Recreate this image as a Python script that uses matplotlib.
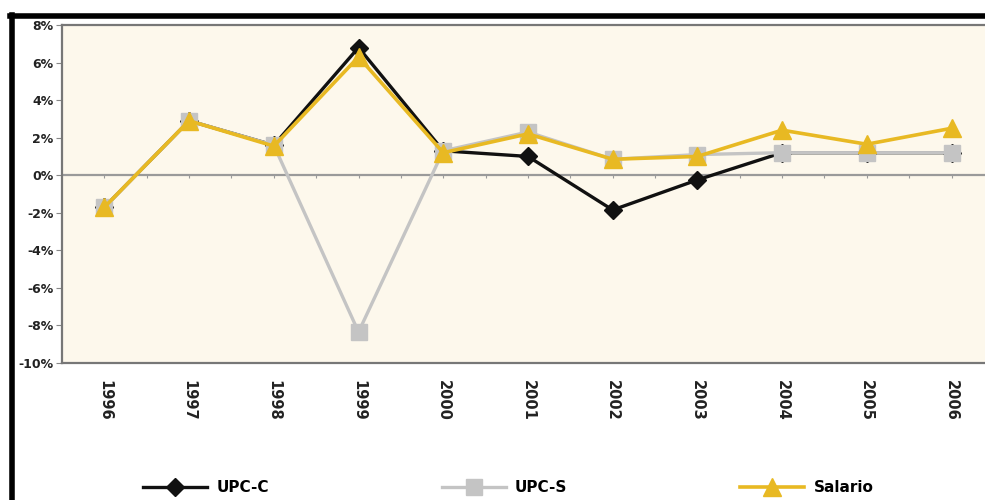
import matplotlib
matplotlib.use("Agg")
import matplotlib.pyplot as plt
from matplotlib.lines import Line2D

# data (percent)
years = ["1996", "1997", "1998", "1999", "2000", "2001", "2002", "2003", "2004", "2005", "2006"]
upc_c = [-1.7, 2.9, 1.6, 6.8, 1.3, 1.0, -1.85, -0.25, 1.2, 1.2, 1.2]
upc_s = [-1.7, 2.9, 1.6, -8.35, 1.3, 2.3, 0.85, 1.1, 1.2, 1.2, 1.2]
salario = [-1.7, 2.9, 1.55, 6.3, 1.2, 2.2, 0.85, 1.0, 2.4, 1.65, 2.5]
yticks = [8, 6, 4, 2, 0, -2, -4, -6, -8, -10]

plt.rcParams['font.family'] = ['DejaVu Sans']

fig = plt.figure(figsize=(9.85, 5.0), dpi=100)
ax = fig.add_axes([0.063, 0.274, 0.946, 0.676])
ax.set_facecolor('#FDF8EC')

x = list(range(len(years)))
ax.axhline(0, color='#9a9a9a', lw=1.6, zorder=1)
ax.plot(x, upc_c, color='#111111', lw=2.4, marker='D', ms=9, label='UPC-C', zorder=3)
ax.plot(x, upc_s, color='#c4c4c4', lw=2.4, marker='s', ms=11, label='UPC-S', zorder=4)
ax.plot(x, salario, color='#E8B923', lw=2.6, marker='^', ms=13, label='Salario', zorder=5)

ax.set_xlim(-0.5, len(years) - 0.5)
ax.set_ylim(-10, 8)
ax.set_yticks(yticks)
ax.set_yticklabels([f"{v}%" for v in yticks], fontsize=9, fontweight='bold', color='#222222')
ax.tick_params(axis='y', direction='out', length=4, color='#888888', pad=2)
ax.set_xticks(x)
ax.set_xticklabels(years, rotation=-90, fontsize=10.5, fontweight='bold', color='#222222')
ax.tick_params(axis='x', length=0, pad=12)

# small ticks sitting on the zero line
zero_axis = ax.secondary_xaxis(10 / 18)
zero_axis.set_xticks([i * 0.5 for i in range(2 * len(years) - 1)])
zero_axis.tick_params(direction='in', length=2.5, color='#9a9a9a', labelbottom=False, labeltop=False)
zero_axis.spines['bottom'].set_visible(False)
zero_axis.spines['top'].set_visible(False)

for side in ['left', 'bottom', 'top', 'right']:
    ax.spines[side].set_color('#777777')
    ax.spines[side].set_linewidth(1.6)

leg = fig.legend(loc='center', bbox_to_anchor=(0.516, 0.025), ncol=3, frameon=False,
                 handlelength=4.2, columnspacing=11.3, handletextpad=0.6,
                 prop={'size': 11, 'weight': 'bold'})

# black frame on the left and top edges of the picture
fig.add_artist(Line2D([0.0125, 0.0125], [0.0, 0.97], color='black', lw=4, transform=fig.transFigure))
fig.add_artist(Line2D([0.0105, 1.0], [0.968, 0.968], color='black', lw=4, transform=fig.transFigure))

fig.savefig("out.png", dpi=100)
